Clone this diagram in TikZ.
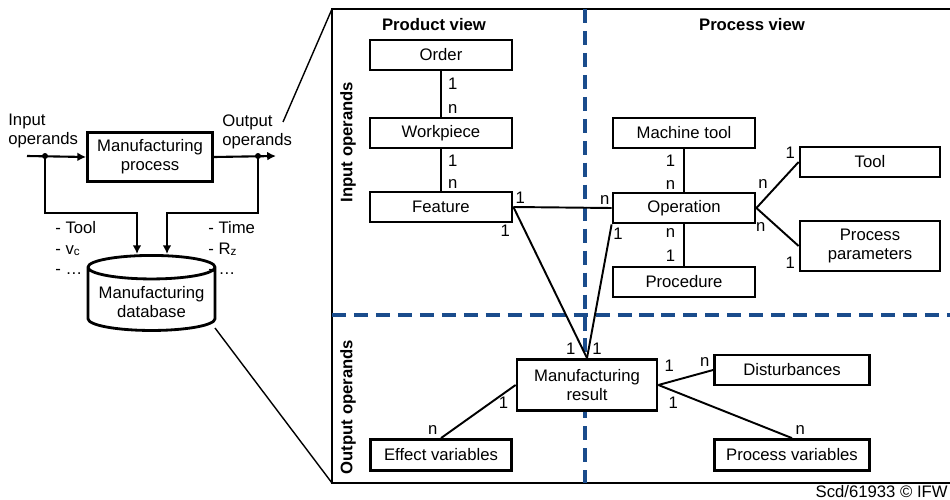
\documentclass[tikz,border=0pt]{standalone}
\usepackage{fontspec}
\setmainfont{Liberation Sans}
\usetikzlibrary{shapes.geometric}
\usetikzlibrary{arrows.meta}
\usetikzlibrary{positioning}
\definecolor{sepblue}{RGB}{26,76,140}

\begin{document}
\begin{tikzpicture}[x=0.02cm,y=-0.02cm,
  font=\fontsize{9.5}{11}\selectfont,
  box/.style={draw, fill=white, line width=1.6pt, minimum width=2.84cm, minimum height=0.6cm, inner sep=1pt, align=center},
  link/.style={line width=1.1pt},
  card/.style={inner sep=1.5pt},
  divider/.style={draw=sepblue, line width=2.1pt, dash pattern=on 8pt off 4.5pt},
  flow/.style={line width=1.2pt, -{Latex[length=5pt,width=5pt]}},
  heading/.style={font=\fontsize{9.5}{11}\selectfont\bfseries}]
\useasboundingbox (0,0) rectangle (950,500);

% left: process and database
\node[box, minimum width=2.5cm, minimum height=0.98cm] (mp) at (150,157) {Manufacturing\\process};
\node[cylinder, draw, fill=white, line width=1.6pt, shape border rotate=90, aspect=0.2, minimum width=2.54cm, minimum height=1.2cm, align=center] (db) at (151.5,302) {Manufacturing\\database};
\node[anchor=west, align=left, inner sep=0] (inlbl) at (8,131) {Input\\operands};
\node[anchor=west, align=left, inner sep=0] (outlbl) at (222,132) {Output\\operands};
\node[anchor=west, align=left, inner sep=0, font=\fontsize{9.5}{11.6}\selectfont] (inpar) at (55,248) {- Tool\\- v\textsubscript{c}\\- \dots};
\node[anchor=west, align=left, inner sep=0, font=\fontsize{9.5}{11.6}\selectfont] (outpar) at (208,248) {- Time\\- R\textsubscript{z}\\- \dots};
\coordinate (ins) at (27,156);
\coordinate (d1) at (45,156);
\coordinate (d2) at (258,156);
\coordinate (oute) at (276,156);
\coordinate (k1) at (137,213);
\coordinate (k2) at (167,213);
\draw[flow] (ins) -- (mp.west);
\draw[flow] (mp.east) -- (oute);
\draw[flow] (d1) |- (k1) -- (k1 |- db.north);
\draw[flow] (d2) |- (k2) -- (k2 |- db.north);
\fill (d1) circle (3);
\fill (d2) circle (3);

% zoom frame
\coordinate (ftl) at (332,9);
\coordinate (fbl) at (332,483);
\coordinate (zs) at (283,122);
\coordinate (zd) at (215,328);
\draw[line width=0.8pt] (zs) -- (ftl);
\draw[line width=0.8pt] (zd) -- (fbl);
\draw[line width=1.6pt] (952,9) -- (ftl) -- (fbl) -- (952,483);
\draw[divider] (585,9) -- (585,483);
\draw[divider] (332,315) -- (952,315);

\node[heading] (pview) at (434,25) {Product view};
\node[heading] (cview) at (752,25) {Process view};
\node[heading, rotate=90] (inops) at (348,142) {Input operands};
\node[heading, rotate=90] (outops) at (348,407) {Output operands};

% product view
\node[box] (order) at (441,55) {Order};
\node[box] (wp) at (441,133) {Workpiece};
\node[box] (feat) at (441,207) {Feature};

% process view
\node[box] (mt) at (684,133) {Machine tool};
\node[box] (oper) at (684,208) {Operation};
\node[box] (proc) at (684,282) {Procedure};
\node[box, minimum width=2.8cm] (tool) at (870,162) {Tool};
\node[box, minimum width=2.8cm, minimum height=1cm] (pp) at (870,246) {Process\\parameters};

% output operands
\node[box, minimum width=2.8cm, minimum height=1.02cm] (res) at (587,385) {Manufacturing\\result};
\node[box, minimum width=3.1cm] (dist) at (792,370) {Disturbances};
\node[box, minimum width=2.82cm, minimum height=0.62cm] (ev) at (441,455) {Effect variables};
\node[box, minimum width=3.1cm, minimum height=0.62cm] (pv) at (792,455) {Process variables};

\draw[link] (order) -- node[card, pos=0.27, right=2pt]{1} node[card, pos=0.83, right=2pt]{n} (wp);
\draw[link] (wp) -- node[card, pos=0.27, right=2pt]{1} node[card, pos=0.84, right=2pt]{n} (feat);
\draw[link] (mt) -- node[card, pos=0.27, left=3pt]{1} node[card, pos=0.84, left=3pt]{n} (oper);
\draw[link] (oper) -- node[card, pos=0.2, left=3pt]{n} node[card, pos=0.77, left=3pt]{1} (proc);
\draw[link] (feat.east) -- node[card, pos=0.07, above]{1} node[card, pos=0.93, above]{n} (oper.west);
\draw[link] (feat.east) -- node[card, at start, below left=8pt and 0pt]{1} node[card, pos=0.94, left=2pt]{1} (res.north);
\draw[link] (oper.south west) -- node[card, pos=0.07, right]{1} node[card, pos=0.93, right]{1} (res.north);
\draw[link] (oper.east) -- node[card, pos=0.35, above left]{n} node[card, pos=1, above left]{1} (tool.west);
\draw[link] (oper.east) -- node[card, pos=0.3, below left]{n} node[card, pos=1, below left=4pt and 0pt]{1} (pp.west);
\draw[link] (res.east) -- node[card, pos=0.05, above right=5pt and 0pt]{1} node[card, pos=1, above left]{n} (dist.west);
\draw[link] (res.east) -- node[card, pos=0.05, below right=3pt and 0pt]{1} node[card, pos=1, above right]{n} (pv.north);
\draw[link] (res.west) -- node[card, pos=0.05, below left=3pt and 0pt]{1} node[card, pos=1, above left]{n} (ev.north);

\node[anchor=east, inner sep=0] (credit) at (948,492) {Scd/61933 © IFW};
\end{tikzpicture}
\end{document}
